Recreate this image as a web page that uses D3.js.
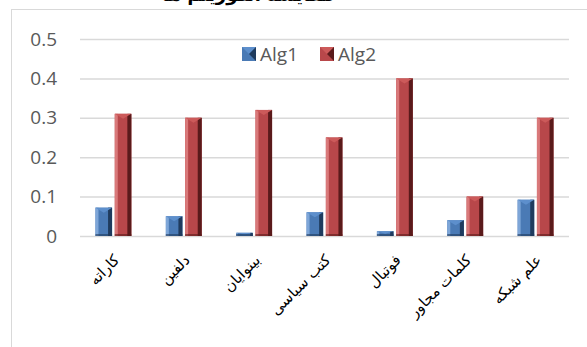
<!DOCTYPE html>
<html>
<head>
<meta charset="utf-8">
<script src="https://cdn.jsdelivr.net/npm/d3@7"></script>
<style>
  body { margin: 0; background: #fff; }
  svg { display: block; }
</style>
</head>
<body>
<div id="chart"></div>
<script>
// Data
const categories = ["کاراته", "دلفین", "بینوایان", "کتب سیاسی", "فوتبال", "کلمات مجاور", "علم شبکه"];
const seriesNames = ["Alg1", "Alg2"];
const alg1 = [0.072, 0.05, 0.008, 0.06, 0.012, 0.04, 0.092];
const alg2 = [0.31, 0.30, 0.32, 0.25, 0.40, 0.10, 0.30];
const yTicks = [0, 0.1, 0.2, 0.3, 0.4, 0.5];
const titleText = "مقایسه الگوریتم ها";

const W = 587, H = 347;
const margin = {top: 39, right: 18, bottom: 111, left: 80};
const width = W - margin.left - margin.right;
const height = H - margin.top - margin.bottom;

const colors = {
  Alg1: {mid: "#4a7ab5", light: "#7ea6d8", dark: "#1f3b5e", top: "#5d8fcc"},
  Alg2: {mid: "#b8474a", light: "#d9797a", dark: "#5a1a1b", top: "#cc5a5a"}
};

const svg = d3.select("#chart").append("svg")
  .attr("width", W).attr("height", H);

// outer chart frame
svg.append("rect")
  .attr("x", 11.5).attr("y", 9.5)
  .attr("width", W + 10).attr("height", H + 10)
  .attr("fill", "none").attr("stroke", "#d9d9d9");

// title (only its lower edge shows, as in the reference)
svg.append("text")
  .attr("x", 248).attr("y", 1)
  .attr("text-anchor", "middle")
  .style("font-family", "DejaVu Sans")
  .style("font-weight", "bold")
  .style("font-size", "18px")
  .text(titleText);

const g = svg.append("g").attr("transform", `translate(${margin.left},${margin.top})`);

const x = d3.scaleBand().domain(categories).range([0, width]).paddingInner(0.49).paddingOuter(0.22);
const xs = d3.scaleBand().domain(seriesNames).range([0, x.bandwidth()]).paddingInner(0.14);
const y = d3.scaleLinear().domain([0, 0.5]).range([height, 0]);

// grid
g.selectAll(".grid").data(yTicks).enter().append("line")
  .attr("x1", 0).attr("x2", width)
  .attr("y1", d => y(d) + 0.5).attr("y2", d => y(d) + 0.5)
  .attr("stroke", "#d9d9d9").attr("stroke-width", 1.5);

// y axis labels
const yAxis = g.append("g")
  .call(d3.axisLeft(y).tickValues(yTicks).tickSize(0).tickPadding(23).tickFormat(d => d === 0 ? "0" : d3.format(".1f")(d)));
yAxis.select(".domain").remove();
yAxis.selectAll("text")
  .style("font-family", "Open Sans")
  .style("font-size", "19px")
  .attr("fill", "#595959");

// x axis labels
const xAxis = g.append("g").attr("transform", `translate(0,${height})`)
  .call(d3.axisBottom(x).tickSize(0).tickPadding(0));
xAxis.select(".domain").remove();
xAxis.selectAll("text")
  .attr("dy", 0).attr("y", 0)
  .attr("text-anchor", "start")
  .attr("direction", "rtl")
  .attr("transform", "translate(7,25) rotate(-45)")
  .style("font-family", "DejaVu Sans")
  .style("font-size", "15px")
  .attr("fill", "#000");

// bars with bevel look
const rows = categories.map((c, i) => ({cat: c, vals: [{s: "Alg1", v: alg1[i]}, {s: "Alg2", v: alg2[i]}]}));
const bars = g.selectAll(".cat").data(rows).enter().append("g")
  .attr("transform", d => `translate(${x(d.cat)},0)`)
  .selectAll("g").data(d => d.vals).enter().append("g");

function drawBar(sel) {
  sel.each(function(d) {
    const gg = d3.select(this);
    const c = colors[d.s];
    const x0 = xs(d.s), w = xs.bandwidth();
    const y0 = y(d.v), h = height - y0;
    const b = Math.min(3, h / 2), tri = Math.min(5, h / 2);
    gg.append("rect").attr("x", x0).attr("y", y0).attr("width", w).attr("height", h).attr("fill", c.mid);
    // left light edge
    gg.append("rect").attr("x", x0).attr("y", y0).attr("width", b).attr("height", h).attr("fill", c.light);
    // right dark edge
    gg.append("rect").attr("x", x0 + w - b - 1).attr("y", y0).attr("width", b + 1).attr("height", h).attr("fill", c.dark);
    // top triangle
    gg.append("path")
      .attr("d", `M${x0},${y0}L${x0 + w},${y0}L${x0 + w / 2},${y0 + tri}Z`)
      .attr("fill", c.top);
    // bottom sliver
    gg.append("rect").attr("x", x0).attr("y", height - Math.min(2, h)).attr("width", w).attr("height", Math.min(2, h)).attr("fill", c.dark).attr("opacity", 0.6);
  });
}
bars.call(drawBar);

// legend
const legend = svg.append("g").attr("transform", "translate(242,47)");
const lx = [0, 78];
seriesNames.forEach((s, i) => {
  const lg = legend.append("g").attr("transform", `translate(${lx[i]},0)`);
  const c = colors[s];
  lg.append("rect").attr("width", 14).attr("height", 14).attr("fill", c.mid);
  lg.append("path").attr("d", "M0,0L14,0L7,7Z").attr("fill", c.top);
  lg.append("path").attr("d", "M14,0L14,14L7,7Z").attr("fill", c.dark);
  lg.append("text").attr("x", 18).attr("y", 14)
    .style("font-family", "Open Sans").style("font-size", "19px")
    .attr("fill", "#595959").text(s);
});
</script>
</body>
</html>
